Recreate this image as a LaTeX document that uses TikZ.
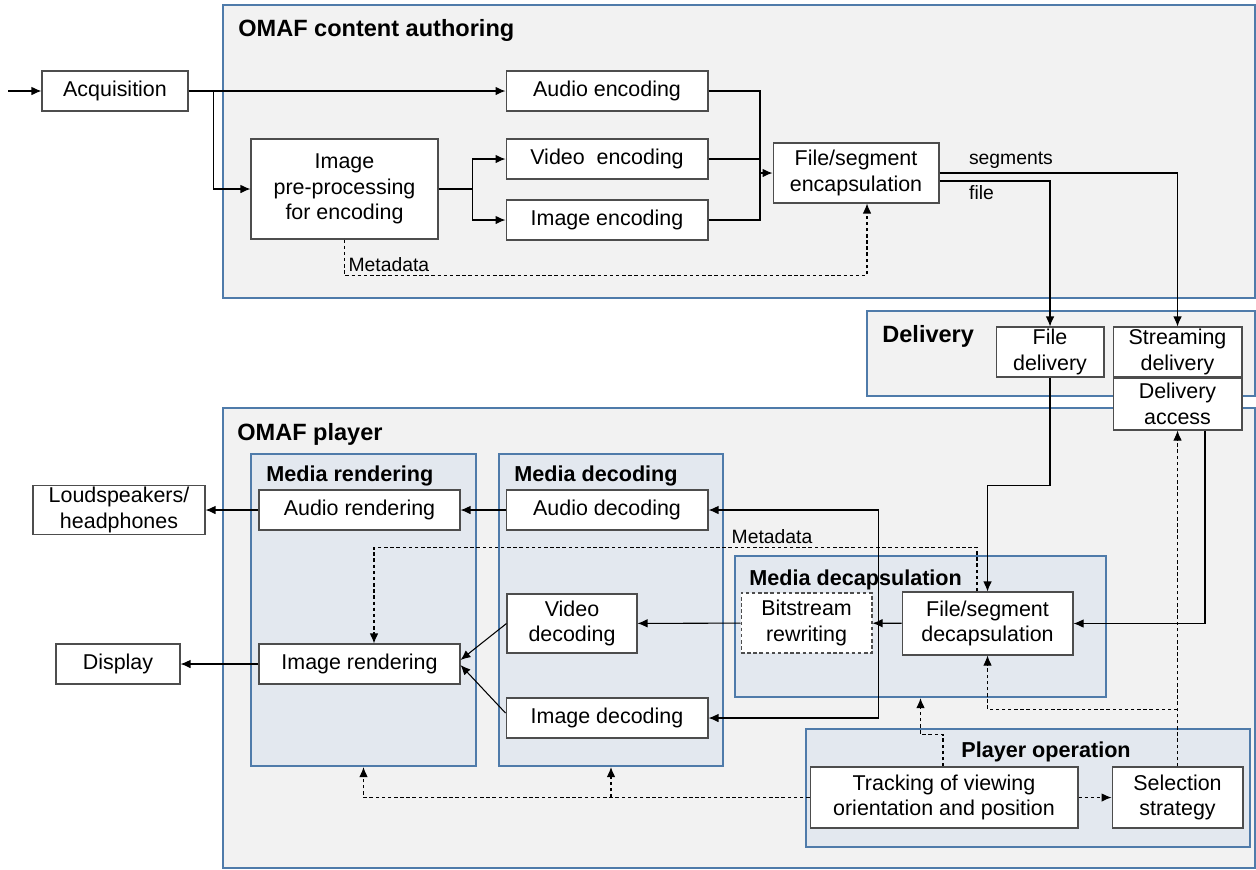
\documentclass[tikz,border=0pt]{standalone}
\usepackage{fontspec}
\setmainfont{Liberation Sans}
\usetikzlibrary{arrows.meta,calc}
\definecolor{framecol}{HTML}{4F7BAA}
\definecolor{outerfill}{HTML}{F2F2F2}
\definecolor{innerfill}{HTML}{E3E8EF}
\definecolor{boxline}{HTML}{4D4D4D}

\begin{document}
\begin{tikzpicture}[x=0.02cm, y=-0.02cm, >={Latex[length=2mm,width=1.7mm]},
    box/.style={draw=boxline, fill=white, rectangle, line width=0.6pt, align=center, inner sep=1pt, font=\fontsize{12.2}{14.7}\selectfont},
    group/.style={draw=framecol, rectangle, line width=1.2pt, inner sep=0pt},
    title/.style={anchor=west, inner sep=0pt, font=\fontsize{13.4}{16}\selectfont\bfseries},
    subtitle/.style={anchor=west, inner sep=0pt, font=\fontsize{12.3}{15}\selectfont\bfseries},
    lbl/.style={inner sep=2pt, font=\fontsize{11}{13}\selectfont},
    flow/.style={->, line width=0.6pt},
    meta/.style={->, line width=0.6pt, dash pattern=on 2pt off 1.5pt}]
    \useasboundingbox (0,0) rectangle (1256,869);

    % Frames
    \node[group, fill=outerfill, minimum width=20.64cm, minimum height=5.86cm] (author) at (739,151.5) {};
    \node[group, fill=outerfill, minimum width=7.76cm, minimum height=1.7cm] (deliv) at (1061,353.5) {};
    \node[group, fill=outerfill, minimum width=20.64cm, minimum height=9.2cm] (player) at (739,638) {};
    \node[group, fill=innerfill, minimum width=4.5cm, minimum height=6.24cm] (mrend) at (363.5,610) {};
    \node[group, fill=innerfill, minimum width=4.48cm, minimum height=6.24cm] (mdec) at (611,610) {};
    \node[group, fill=innerfill, minimum width=7.42cm, minimum height=2.82cm] (mdecap) at (920.5,626.5) {};
    \node[group, fill=innerfill, minimum width=8.88cm, minimum height=2.36cm] (pop) at (1028,788) {};

    % Frame titles
    \node[title] (tauth) at (238,30) {OMAF content authoring};
    \node[title] (tdeliv) at (882,336) {Delivery};
    \node[title] (tplayer) at (237,434) {OMAF player};
    \node[subtitle] (tmrend) at (266,476) {Media rendering};
    \node[subtitle] (tmdec) at (514,476) {Media decoding};
    \node[subtitle] (tmdecap) at (749,580) {Media decapsulation};
    \node[subtitle, anchor=center] (tpop) at (1046,752) {Player operation};

    % Content authoring
    \coordinate (in) at (8,91);
    \node[box, minimum width=2.92cm, minimum height=0.8cm] (acq) at (115,91) {Acquisition};
    \node[box, minimum width=4.04cm, minimum height=0.8cm] (aenc) at (607,91) {Audio encoding};
    \node[box, minimum width=3.74cm, minimum height=2cm] (pre) at (344.5,189) {Image\\pre-processing\\for encoding};
    \node[box, minimum width=4.04cm, minimum height=0.8cm] (venc) at (607,159) {Video\ \ encoding};
    \node[box, minimum width=4.04cm, minimum height=0.8cm] (ienc) at (607,220) {Image encoding};
    \node[box, minimum width=3.32cm, minimum height=1.2cm] (enc) at (856,173) {File/segment\\encapsulation};

    % Delivery
    \node[box, minimum width=2.16cm, minimum height=1cm] (fdel) at (1050,352) {File\\delivery};
    \node[box, minimum width=2.58cm, minimum height=1cm] (sdel) at (1177.5,352) {Streaming\\delivery};
    \node[box, minimum width=2.58cm, minimum height=1.04cm] (dacc) at (1177.5,404) {Delivery\\access};

    % Player
    \node[box, minimum width=3.44cm, minimum height=0.96cm] (spk) at (119,510) {Loudspeakers/\\headphones};
    \node[box, minimum width=2.48cm, minimum height=0.8cm] (disp) at (118,664) {Display};
    \node[box, minimum width=4.02cm, minimum height=0.8cm] (arend) at (359.5,510) {Audio rendering};
    \node[box, minimum width=4.02cm, minimum height=0.8cm] (irend) at (359.5,664) {Image rendering};
    \node[box, minimum width=4.04cm, minimum height=0.8cm] (adec) at (607,510) {Audio decoding};
    \node[box, minimum width=2.6cm, minimum height=1.18cm] (vdec) at (572,623.5) {Video\\decoding};
    \node[box, minimum width=4.04cm, minimum height=0.8cm] (idec) at (607,718) {Image decoding};
    \node[box, dashed, dash pattern=on 2pt off 1.5pt, minimum width=2.62cm, minimum height=1.2cm] (bsr) at (806.5,623) {Bitstream\\rewriting};
    \node[box, minimum width=3.42cm, minimum height=1.26cm] (dec) at (987.5,623.5) {File/segment\\decapsulation};
    \node[box, minimum width=5.36cm, minimum height=1.22cm] (trk) at (944,797.5) {Tracking of viewing\\orientation and position};
    \node[box, minimum width=2.62cm, minimum height=1.22cm] (sel) at (1177.5,797.5) {Selection\\strategy};

    % Authoring arrows
    \draw[flow] (in) -- (acq);
    \draw[flow] (acq) -- (aenc);
    \draw[flow] ([xshift=0.5cm]acq.east) |- (pre.west);
    \draw[line width=0.6pt] (pre.east) -- ++(34,0) coordinate (split);
    \draw[flow] (split) |- (venc.west);
    \draw[flow] (split) |- (ienc.west);
    \coordinate (join) at (760,173);
    \draw[line width=0.6pt] (aenc.east) -| (join);
    \draw[line width=0.6pt] (venc.east) -- (venc.east -| join);
    \draw[line width=0.6pt] (ienc.east) -| (join);
    \draw[flow] (join) -- (enc.west);
    \draw[meta] (pre.south) -- ++(0,36) node[lbl, above right] {Metadata} -| ([xshift=0.22cm]enc.south);

    % To delivery
    \draw[flow] (enc.east) -| node[lbl, pos=0.15, above] {segments} (sdel.north);
    \draw[flow] ([yshift=-0.16cm]enc.east) -| node[lbl, pos=0.19, below] {file} (fdel.north);

    % To player
    \draw[flow] (fdel.south) -- ++(0,108) -| (dec.north);
    \draw[flow] ([xshift=0.55cm]dacc.south) |- (dec.east);
    \draw[flow] (dec) -- (bsr);
    \draw[flow] (bsr) -- (vdec);
    \coordinate (bypass) at ($(bsr.east)!0.2!(dec.west)$);
    \draw[flow] (bypass) |- (adec.east);
    \draw[flow] (bypass) |- (idec.east);
    \draw[flow] (vdec.west) -- ([yshift=0.08cm]irend.east);
    \draw[flow] ([yshift=0.1cm]idec.west) -- ([yshift=-0.02cm]irend.east);
    \draw[flow] (adec) -- (arend);
    \draw[flow] (arend) -- (spk);
    \draw[flow] (irend) -- (disp);
    \draw[meta] ([xshift=-0.21cm]dec.north) -- ++(0,-44) -| node[lbl, pos=0.17, above] {Metadata} ([xshift=0.29cm]irend.north);

    % Player operation
    \draw[meta] (sel.north) -- (dacc.south);
    \coordinate (selbr) at ($(sel.north)+(0,-57)$);
    \draw[meta] (selbr) -| (dec.south);
    \draw[meta] ([xshift=-0.02cm]trk.north) -- ++(0,-32) -| (mdecap.south);
    \draw[meta] (trk.west) -| (mrend.south);
    \draw[meta] (trk.west -| mdec.south) -- (mdec.south);
    \draw[meta] (trk) -- (sel);
\end{tikzpicture}
\end{document}
